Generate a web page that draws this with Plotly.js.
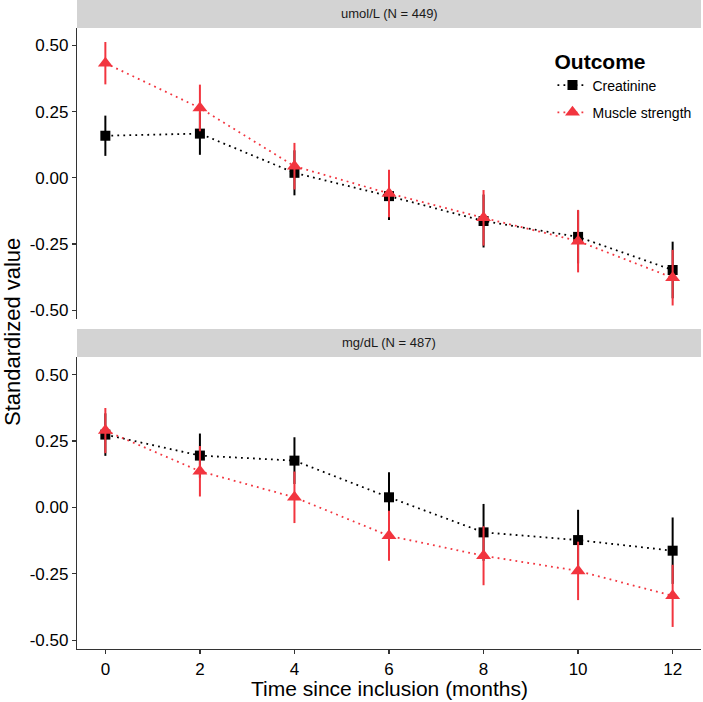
<!DOCTYPE html>
<html>
<head>
<meta charset="utf-8">
<script src="https://cdn.plot.ly/plotly-3.0.1.min.js"></script>
<style>html,body{margin:0;padding:0;background:#fff;}#chart{width:703px;height:702px;}</style>
</head>
<body>
<div id="chart"></div>
<script>
// Data
const months = [0, 2, 4, 6, 8, 10, 12];
const panelTitles = ["umol/L (N = 449)", "mg/dL (N = 487)"];
const seriesNames = ["Creatinine", "Muscle strength"];

// Panel 1: umol/L
const umolCreat = [0.159, 0.167, 0.019, -0.069, -0.163, -0.223, -0.348];
const umolCreatErr = [0.076, 0.080, 0.085, 0.090, 0.100, 0.100, 0.107];
const umolMuscle = [0.433, 0.264, 0.044, -0.059, -0.151, -0.239, -0.377];
const umolMuscleErr = [0.080, 0.088, 0.088, 0.090, 0.105, 0.118, 0.105];

// Panel 2: mg/dL
const mgCreat = [0.274, 0.195, 0.176, 0.038, -0.094, -0.123, -0.163];
const mgCreatErr = [0.080, 0.083, 0.088, 0.094, 0.107, 0.114, 0.125];
const mgMuscle = [0.289, 0.136, 0.038, -0.107, -0.182, -0.239, -0.333];
const mgMuscleErr = [0.085, 0.095, 0.097, 0.094, 0.111, 0.110, 0.117];

const xTicks = [0, 2, 4, 6, 8, 10, 12];
const yTicks = [-0.5, -0.25, 0, 0.25, 0.5];
const yTickText = ["-0.50", "-0.25", "0.00", "0.25", "0.50"];

const BLACK = "#000000";
const RED = "#F2353F";

function mk(y, err, name, color, symbol, size, xa, ya, show) {
  return {
    x: months, y: y, name: name, type: "scatter", mode: "lines+markers",
    xaxis: xa, yaxis: ya, showlegend: show, legendgroup: name,
    line: {color: color, dash: "1.8px,4.2px", width: 1.8},
    marker: {color: color, symbol: symbol, size: size},
    error_y: {type: "data", array: err, visible: true, color: color, thickness: 2, width: 0}
  };
}

const traces = [
  mk(umolCreat, umolCreatErr, seriesNames[0], BLACK, "square", 10, "x2", "y", true),
  mk(umolMuscle, umolMuscleErr, seriesNames[1], RED, "triangle-up", 13, "x2", "y", true),
  mk(mgCreat, mgCreatErr, seriesNames[0], BLACK, "square", 10, "x", "y2", false),
  mk(mgMuscle, mgMuscleErr, seriesNames[1], RED, "triangle-up", 13, "x", "y2", false)
];

const FONT = "Liberation Sans, Arial, Helvetica, sans-serif";
const yRange = [-0.533, 0.566];
const topDom = [0.5085, 0.9569];
const botDom = [0, 0.4499];

const yAxisCommon = {
  range: yRange, tickvals: yTicks, ticktext: yTickText,
  showline: true, linecolor: "#333333", linewidth: 1.2,
  ticks: "outside", ticklen: 4, tickcolor: "#333333", tickwidth: 1.2,
  showgrid: false, zeroline: false,
  tickfont: {family: FONT, size: 17, color: "#000"}
};

const layout = {
  width: 703, height: 702,
  margin: {l: 77, r: 2, t: 0, b: 53},
  paper_bgcolor: "#fff", plot_bgcolor: "#fff",
  font: {family: FONT},
  showlegend: true,
  legend: {
    x: 0.762, y: 0.935, xanchor: "left", yanchor: "top",
    bgcolor: "rgba(255,255,255,0)",
    title: {text: "<b>Outcome</b>", font: {family: FONT, size: 21, color: "#000"}},
    font: {family: FONT, size: 14, color: "#000"},
    tracegroupgap: 6, itemwidth: 30
  },
  xaxis: {
    domain: [0, 1], anchor: "y2", range: [-0.6, 12.6],
    tickvals: xTicks, showline: true, linecolor: "#333333", linewidth: 1.2,
    ticks: "outside", ticklen: 4, tickcolor: "#333333", tickwidth: 1.2,
    showgrid: false, zeroline: false,
    tickfont: {family: FONT, size: 17, color: "#000"}
  },
  xaxis2: {
    domain: [0, 1], anchor: "y", matches: "x", range: [-0.6, 12.6],
    showline: false, showticklabels: false, ticks: "", showgrid: false, zeroline: false
  },
  yaxis: Object.assign({}, yAxisCommon, {domain: topDom, anchor: "x2"}),
  yaxis2: Object.assign({}, yAxisCommon, {domain: botDom, anchor: "x"}),
  shapes: [
    {type: "rect", xref: "paper", yref: "paper", x0: 0, x1: 1, y0: 0.9569, y1: 1.0,
     fillcolor: "#d3d3d3", line: {width: 0}, layer: "below"},
    {type: "rect", xref: "paper", yref: "paper", x0: 0, x1: 1, y0: 0.4499, y1: 0.4931,
     fillcolor: "#d3d3d3", line: {width: 0}, layer: "below"}
  ],
  annotations: [
    {text: panelTitles[0], xref: "paper", yref: "paper", x: 0.5, y: 0.9785,
     showarrow: false, xanchor: "center", yanchor: "middle",
     font: {family: FONT, size: 13, color: "#1a1a1a"}},
    {text: panelTitles[1], xref: "paper", yref: "paper", x: 0.5, y: 0.4715,
     showarrow: false, xanchor: "center", yanchor: "middle",
     font: {family: FONT, size: 13, color: "#1a1a1a"}},
    {text: "Standardized value", xref: "paper", yref: "paper", x: -0.103, y: 0.488,
     textangle: -90, showarrow: false, xanchor: "center", yanchor: "middle",
     font: {family: FONT, size: 22, color: "#000"}},
    {text: "Time since inclusion (months)", xref: "paper", yref: "paper", x: 0.5, y: -0.0616,
     showarrow: false, xanchor: "center", yanchor: "middle",
     font: {family: FONT, size: 21, color: "#000"}}
  ]
};

Plotly.newPlot("chart", traces, layout, {displayModeBar: false, staticPlot: true});
</script>
</body>
</html>
